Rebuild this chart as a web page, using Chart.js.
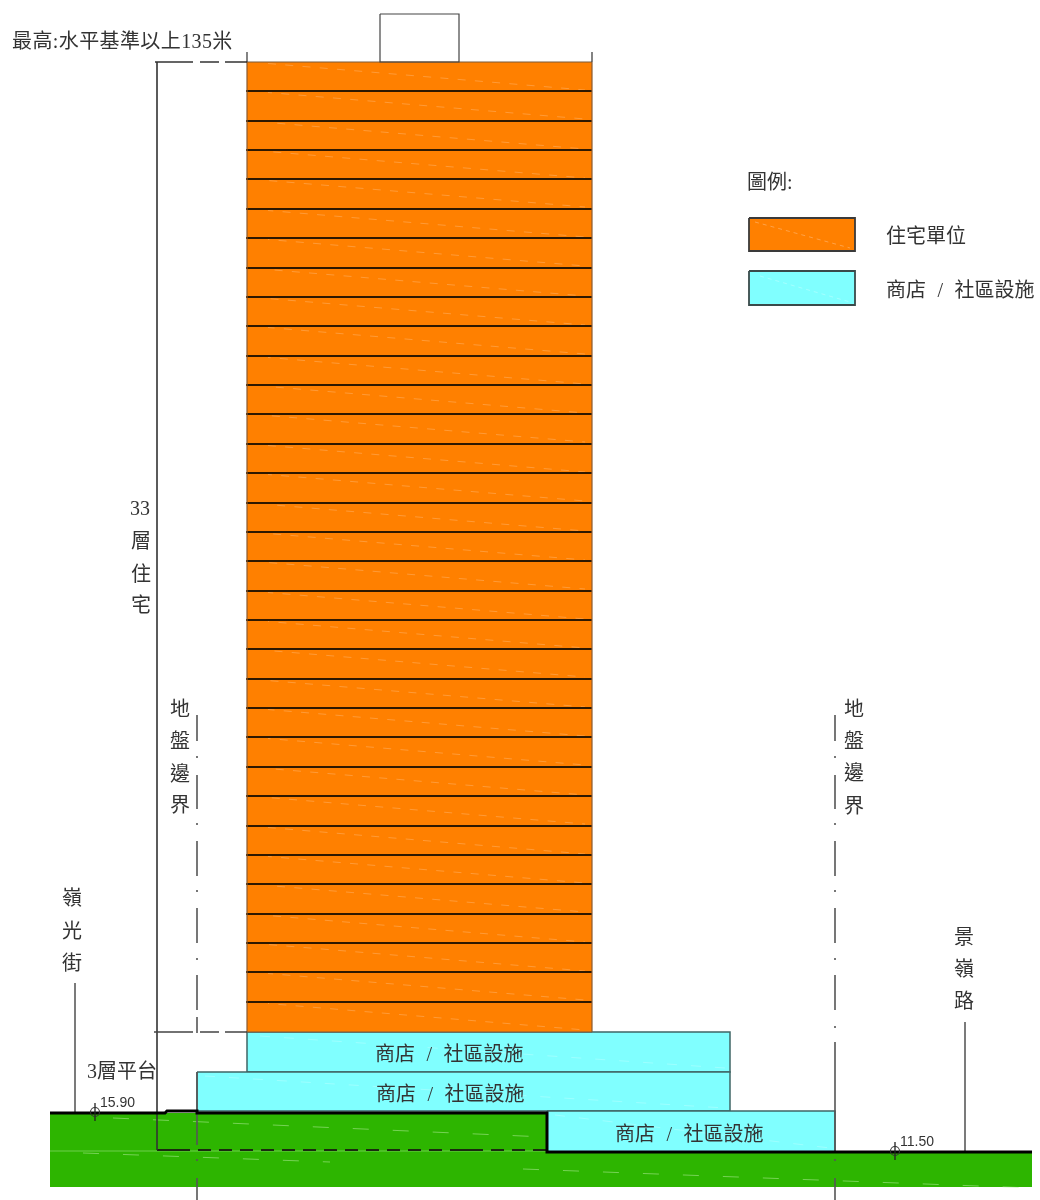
<!DOCTYPE html>
<html lang="zh-Hant">
<head>
<meta charset="utf-8">
<title>Section</title>
<script src="https://cdn.jsdelivr.net/npm/chart.js@4"></script>
<style>
html,body{margin:0;padding:0;background:#fff}
#wrap{width:1040px;height:1200px;overflow:hidden}
canvas{display:block;filter:blur(0.55px)}
</style>
</head>
<body>
<div id="wrap"><canvas id="c" width="1040" height="1200"></canvas></div>
<script>
// ---- values (sheet units) ----
const floorLevels = [62,91,121,150,179,209,238,268,297,326,356,385,414,444,473,503,532,561,591,620,649,679,708,737,767,796,826,855,884,914,943,972,1002,1032];
const towerSpan = [247,592];
const roofBox = [380,459,14,62];
const podiumRects = [[247,730,1032,1072],[197,730,1072,1111],[547,835,1111,1152]];
const groundRects = [[50,547,1113,1187],[546,1032,1152,1187]];
const groundLine = [[50,1113],[165,1113],[167,1111],[197,1111],[197,1113],[547,1113],[547,1152],[1032,1152]];
const legendRects = [[749,855,218,251],[749,855,271,305]];
const boundaryLeftX = 197;
const boundaryRightX = 835;
const boundaryLeftRuns = [[715,741],[756,758],[775,809],[823,825],[841,876],[890,892],[908,943],[958,960],[975,1010],[1017,1033],[1072,1145],[1159,1161],[1178,1200]];
const boundaryRightRuns = [[715,741],[756,758],[775,809],[823,825],[841,876],[890,892],[908,943],[958,960],[975,1010],[1026,1028],[1042,1152],[1159,1161],[1178,1200]];
const heightDimX = 157;
const heightDimY = [62,1150];
const topDim = [[155,62],[247,62]];
const podiumDim = [[154,1032],[247,1032]];
const baseDim = [[157,1150],[547,1150]];
const cornerTicks = [[247,52,62],[592,52,62]];
const streetLeaders = [[75,983,1113],[965,1022,1152]];
const levelMarks = [[95,1112],[895,1151]];
const groundDashes = [[[113,1118],[545,1137]],[[83,1153],[330,1162]],[[523,1169],[1032,1188]]];
const groundSeam = [[50,1151],[547,1151]];
const podiumDashes = [[[260,1036],[725,1068]],[[205,1076],[725,1108]],[[555,1115],[830,1148]]];
const legendDashes = [[[755,222],[850,248]],[[760,276],[850,302]]];

const labelTexts = ['最高:水平基準以上135米','圖例:','住宅單位','商店 / 社區設施','商店 / 社區設施','商店 / 社區設施','商店 / 社區設施',
  '33','層','住','宅','地','盤','邊','界','地','盤','邊','界','嶺','光','街','景','嶺','路','3層平台','15.90','11.50'];
const labelAnchors = [[12,43],[747,184],[886,238],[886,292],[375,1056],[376,1096],[615,1136],
  [130,510],[131,543],[131,576],[131,607],[170,711],[170,743],[170,776],[170,807],[844,711],[844,743],[844,775],[844,808],
  [62,900],[62,933],[62,965],[954,939],[954,971],[954,1003],[87,1073],[100,1103],[900,1142]];

// ---- colours ----
const ORANGE='#ff8000', CYAN='#80ffff', GREEN='#2db500', DARK='#222', FLOOR='#2e1800';

const ds=[];
const pts=a=>a.map(p=>({x:p[0],y:p[1]}));
function line(points,o={}){ds.push(Object.assign({type:'line',data:pts(points),borderColor:DARK,borderWidth:1.5,pointRadius:0,fill:false,tension:0,borderCapStyle:'butt'},o));}
function rect(r,fillCol,stroke,w){
  const [x0,x1,y0,y1]=r;
  if(fillCol) ds.push({type:'line',data:pts([[x0,y0],[x1,y0]]),borderWidth:0,borderColor:'transparent',pointRadius:0,fill:{value:y1},backgroundColor:fillCol,tension:0});
  if(stroke) line([[x0,y0],[x1,y0],[x1,y1],[x0,y1],[x0,y0]],{borderColor:stroke,borderWidth:w});
}
function runs(x,rs,o){const p=[];rs.forEach((r,i)=>{if(i)p.push([x,NaN]);p.push([x,r[0]],[x,r[1]]);});line(p,o);}

// ground
groundRects.forEach(r=>rect(r,GREEN));
line(groundSeam,{borderColor:'rgba(190,240,170,.45)',borderWidth:1});
groundDashes.forEach(d=>line(d,{borderColor:'rgba(190,240,170,.5)',borderWidth:1,borderDash:[16,24]}));
// base dimension over ground
line(baseDim,{borderColor:'#1a2a10',borderWidth:1.8,borderDash:[33,8,13,8,13,8,13,8,13,8,13,8,13,8,13,8,13,8,13,8,13,8,13,8,13,8]});
// podium
podiumRects.forEach(r=>rect(r,CYAN,'#3f6666',1.5));
podiumDashes.forEach(d=>line(d,{borderColor:'rgba(200,255,255,.4)',borderWidth:1,borderDash:[10,14]}));
// tower floors
for(let i=0;i<floorLevels.length-1;i++){
  const t=floorLevels[i],b=floorLevels[i+1];
  rect([towerSpan[0],towerSpan[1],t,b],ORANGE);
}
for(let i=0;i<floorLevels.length-1;i++){
  const t=floorLevels[i];
  line([[268,t+1.5],[585,t+28]],{borderColor:'rgba(255,190,130,.42)',borderWidth:1,borderDash:[8,9.3],borderDashOffset:i*4});
}
floorLevels.forEach((y,i)=>{
  const edge=(i===0||i===floorLevels.length-1);
  line([[towerSpan[0]-1,y],[towerSpan[1],y]],{borderColor:edge?'#7a5a3a':FLOOR,borderWidth:edge?1.2:1.8});
});
line([[towerSpan[0],floorLevels[0]],[towerSpan[0],floorLevels[33]]],{borderColor:'#8a5a30',borderWidth:1.2});
line([[towerSpan[1],floorLevels[0]],[towerSpan[1],floorLevels[33]]],{borderColor:'#8a5a30',borderWidth:1.2});
// roof box
rect(roofBox,null,'#444',1.2);
cornerTicks.forEach(t=>line([[t[0],t[1]],[t[0],t[2]]],{borderColor:'#333',borderWidth:1.2}));
// dimensions
line([[heightDimX,heightDimY[0]],[heightDimX,heightDimY[1]]],{borderColor:'#333',borderWidth:1.6});
line(topDim,{borderColor:'#333',borderWidth:1.5,borderDash:[38,7,19,6,30]});
line(podiumDim,{borderColor:'#444',borderWidth:1.5,borderDash:[39,7,19,6,30]});
// leaders
streetLeaders.forEach(s=>line([[s[0],s[1]],[s[0],s[2]]],{borderColor:'#444',borderWidth:1.4}));
// boundaries
runs(boundaryLeftX,boundaryLeftRuns,{borderColor:'#555',borderWidth:1.6});
runs(boundaryRightX,boundaryRightRuns,{borderColor:'#555',borderWidth:1.6});
// ground line
line(groundLine,{borderColor:'#000',borderWidth:3,borderJoinStyle:'miter'});
// level marks
levelMarks.forEach(m=>{
  line([[m[0],m[1]-9],[m[0],m[1]+9]],{borderColor:'#222',borderWidth:1.3});
  ds.push({type:'line',data:pts([m]),showLine:false,pointStyle:'circle',pointRadius:4.5,pointBorderWidth:1.1,pointBorderColor:'#333',pointBackgroundColor:'transparent'});
});
// legend
rect(legendRects[0],ORANGE,'#3a3a3a',1.8);
rect(legendRects[1],CYAN,'#3a4a4a',1.8);
line(legendDashes[0],{borderColor:'rgba(255,190,130,.55)',borderWidth:1,borderDash:[4,4]});
line(legendDashes[1],{borderColor:'rgba(200,255,255,.5)',borderWidth:1,borderDash:[4,4]});
ds.forEach((d,i)=>{d.order=ds.length-i;});

const textPlugin={id:'sheetText',afterDatasetsDraw(chart){
  const {ctx,scales:{x,y}}=chart;
  ctx.save();
  ctx.textBaseline='middle';ctx.textAlign='left';ctx.fillStyle='#333';
  labelTexts.forEach((t,i)=>{
    const small=/^\d+\.\d+$/.test(t);
    ctx.font=small?'14px "Liberation Sans"':'20px "Liberation Serif","Noto Sans CJK TC"';
    ctx.wordSpacing=t.includes(' / ')?'6.5px':'0px';
    ctx.letterSpacing=t.startsWith('最高')?'0.4px':'0px';
    ctx.fillText(t,x.getPixelForValue(labelAnchors[i][0]),y.getPixelForValue(labelAnchors[i][1]));
  });
  ctx.restore();
}};

new Chart(document.getElementById('c'),{
  type:'line',
  data:{datasets:ds},
  plugins:[textPlugin],
  options:{
    responsive:false,animation:false,devicePixelRatio:1,
    layout:{padding:0,autoPadding:false},
    plugins:{legend:{display:false},tooltip:{enabled:false},title:{display:false}},
    scales:{
      x:{type:'linear',min:0,max:1040,display:false},
      y:{type:'linear',min:0,max:1200,reverse:true,display:false}
    }
  }
});
</script>
</body>
</html>
